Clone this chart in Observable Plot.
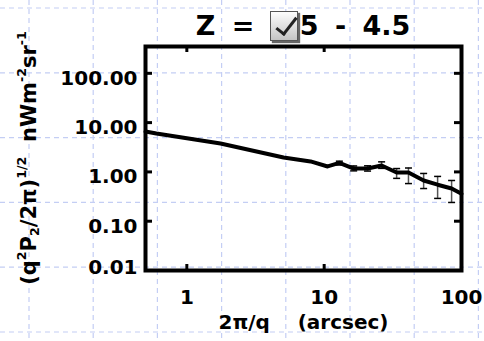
<!DOCTYPE html>
<html>
<head>
<meta charset="utf-8">
<script src="https://cdn.jsdelivr.net/npm/d3@7"></script>
<script src="https://cdn.jsdelivr.net/npm/@observablehq/plot@0.6"></script>
<style>
  html, body { margin: 0; padding: 0; background: #fff; }
  #wrap {
    position: relative; width: 484px; height: 341px; overflow: hidden;
    font-family: "DejaVu Sans", sans-serif; font-weight: bold; color: #000;
  }
  #grid, #chart svg { position: absolute; left: 0; top: 0; }
  #title {
    position: absolute; left: 0; width: 606px; top: 12px;
    text-align: center; font-size: 27px; line-height: 27px;
    white-space: pre; word-spacing: 7px;
  }
  #check {
    position: absolute; left: 270px; top: 11px; width: 26px; height: 28px;
    border: 1px solid #555; background: linear-gradient(#fdfdfd, #c4c4c4);
    box-shadow: 2px 2px 1px #666;
  }
  #check::after {
    content: ""; position: absolute; left: 10px; top: 1px; width: 8px; height: 19px;
    border-right: 3px solid #222; border-bottom: 3px solid #222;
    transform: rotate(38deg);
  }
  #ylabel {
    position: absolute; left: 29px; top: 158px; white-space: pre;
    transform: translate(-50%, -50%) rotate(-90deg); font-size: 21px; line-height: 21px;
  }
  #ylabel sup, #ylabel sub { font-size: 0.6em; line-height: 0; }
  #ylabel sup { vertical-align: 0.75em; }
  #ylabel sub { vertical-align: -0.3em; }
</style>
</head>
<body>
<div id="wrap">
  <svg id="grid" width="484" height="341"></svg>
  <div id="chart"></div>
  <div id="title">Z = 3.5 - 4.5</div>
  <div id="check"></div>
  <div id="ylabel">(q<sup>2</sup>P<sub>2</sub>/2π)<sup>1/2</sup>  nWm<sup>-2</sup>sr<sup>-1</sup></div>
</div>
<script>
// Angular scale 2π/q (arcsec) and fluctuation amplitude (nW m^-2 sr^-1)
const scale = [0.5, 0.6, 1.76, 5.06, 7.96, 10.6, 12.9, 16.4, 20.7, 26.2, 33.7, 41.1, 53, 67, 84.7, 100];
const amplitude = [6.6, 6.0, 3.77, 1.96, 1.63, 1.29, 1.52, 1.17, 1.17, 1.35, 0.97, 0.97, 0.67, 0.55, 0.46, 0.36];

// 1-sigma error bars on the larger scales
const errScale = [12.9, 16.4, 20.7, 26.2, 33.7, 41.1, 53, 67, 84.7];
const errLow  = [1.38, 1.05, 1.04, 1.18, 0.74, 0.58, 0.46, 0.29, 0.24];
const errHigh = [1.65, 1.32, 1.33, 1.60, 1.17, 1.20, 0.93, 0.81, 0.67];

// Tick values
const xTicks = [1, 10, 100];
const yTicks = [0.01, 0.1, 1, 10, 100];

const series = scale.map((x, i) => ({x, y: amplitude[i]}));
const errors = errScale.map((x, i) => ({x, lo: errLow[i], hi: errHigh[i]}));

// Horizontal cap for the error bars
const cap = { draw(ctx) { ctx.moveTo(-3.5, 0); ctx.lineTo(3.5, 0); } };

// Light dashed page grid behind the chart
const grid = d3.select("#grid");
const gx = d3.range(8).map(i => 29 + i * 64.2);
const gy = d3.range(6).map(j => 8 + j * 64.8);
grid.selectAll("line.v").data(gx).join("line")
  .attr("x1", d => d).attr("x2", d => d).attr("y1", 0).attr("y2", 341);
grid.selectAll("line.h").data(gy).join("line")
  .attr("y1", d => d).attr("y2", d => d).attr("x1", 0).attr("x2", 484);
grid.selectAll("line").attr("stroke", "#c4cef4").attr("stroke-width", 1.2).attr("stroke-dasharray", "5,4");

const W = 484, H = 341, ML = 145, MR = 23, MT = 46, MB = 71;
const fw = W - ML - MR, fh = H - MT - MB;
const font = {fontSize: 20, fontWeight: "bold"};

const chart = Plot.plot({
  width: W, height: H,
  marginLeft: ML, marginRight: MR, marginTop: MT, marginBottom: MB,
  x: {type: "log", domain: [0.5, 100], label: null},
  y: {type: "log", domain: [0.01, 350], label: null},
  style: {background: "transparent", fontFamily: "DejaVu Sans, sans-serif", fontWeight: "bold", fontSize: "20px", color: "black", overflow: "visible"},
  marks: [
    Plot.axisX(xTicks, {tickSize: 0, tickPadding: 19, tickFormat: d => String(d), label: null, ...font}),
    Plot.axisY(yTicks.slice(1), {tickSize: 0, tickPadding: 8, tickFormat: d3.format(".2f"), dy: 5, label: null, ...font}),
    Plot.axisY(yTicks.slice(0, 1), {tickSize: 0, tickPadding: 8, tickFormat: d3.format(".2f"), dy: -3, label: null, ...font}),
    Plot.text(["2π/q\u00a0\u00a0\u00a0\u00a0(arcsec)"], {frameAnchor: "bottom", dy: 58, text: d => d, ...font}),
    // inward major ticks on all four sides
    Plot.tickY(yTicks.slice(1), {y: d => d, insetRight: fw - 7, strokeWidth: 3}),
    Plot.tickY(yTicks.slice(1), {y: d => d, insetLeft: fw - 7, strokeWidth: 3}),
    Plot.tickX(xTicks.slice(0, 2), {x: d => d, insetTop: fh - 6, strokeWidth: 3}),
    Plot.tickX(xTicks.slice(0, 2), {x: d => d, insetBottom: fh - 6, strokeWidth: 3}),
    Plot.ruleX(errors, {x: "x", y1: "lo", y2: "hi", stroke: "#555", strokeWidth: 1.5}),
    Plot.line(series, {x: "x", y: "y", stroke: "black", strokeWidth: 4, strokeLinejoin: "round"}),
    Plot.dot(errors, {x: "x", y: "lo", symbol: cap, fill: "none", stroke: "black", strokeWidth: 1.5}),
    Plot.dot(errors, {x: "x", y: "hi", symbol: cap, fill: "none", stroke: "black", strokeWidth: 1.5}),
    Plot.frame({stroke: "black", strokeWidth: 4})
  ]
});
document.getElementById("chart").append(chart);
</script>
</body>
</html>
